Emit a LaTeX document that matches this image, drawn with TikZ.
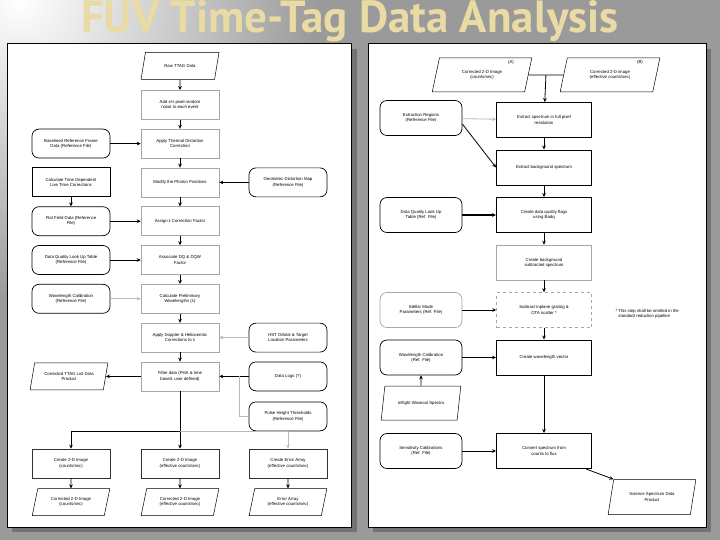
\documentclass[tikz,border=0pt]{standalone}
\usepackage{fontspec}
\setmainfont{Liberation Sans}
\newfontfamily\titlefont{PT Sans}
\usetikzlibrary{positioning,shapes.geometric,arrows.meta,calc}
\definecolor{slidegray}{HTML}{9A9A9A}
\definecolor{titlegold}{HTML}{E9DBA3}

\tikzset{
  boxtext/.style={font=\fontsize{4.3}{5.2}\selectfont, align=center},
  process/.style={boxtext, draw=gray!70, line width=0.5pt, fill=white, minimum width=78pt, minimum height=29pt},
  processthick/.style={process, draw=black, line width=0.9pt},
  reffile/.style={process, draw=black, line width=0.7pt, rounded corners=7pt},
  dataio/.style={boxtext, draw=black, line width=0.5pt, fill=white, trapezium,
    trapezium left angle=76, trapezium right angle=104, trapezium stretches=true,
    minimum width=78pt, minimum height=27pt},
  flow/.style={-{Stealth[length=4pt,width=3.6pt]}, line width=0.8pt},
  lightflow/.style={flow, draw=gray!55},
  wide/.style={minimum width=95pt, minimum height=35pt},
  narrow/.style={minimum width=82pt, minimum height=35pt}
}

\begin{document}
\begin{tikzpicture}[x=1pt, y=-1pt, node distance=38.8pt]
  \useasboundingbox (0,0) rectangle (720,540);
  % slide background
  \fill[slidegray] (0,0) rectangle (720,540);
  \begin{scope}
    \clip (0,0) rectangle (720,540);
    \shade[inner color=white, outer color=slidegray] (20,0) circle (300);
  \end{scope}

  % title
  \node[font=\titlefont\bfseries\fontsize{45}{45}\selectfont, text=titlegold] (title) at (350,21) {FUV Time-Tag Data Analysis};

  % panels
  \fill[black!55] (12,49) rectangle (357,532);
  \fill[black!55] (373,49) rectangle (711,532);
  \draw[fill=white, line width=0.7pt] (7,43) rectangle (351,527);
  \draw[fill=white, line width=0.7pt] (368,43) rectangle (706,527);

  %% left panel: main chain
  \node[dataio] (raw) at (180,66) {Raw TTAG Data};
  \node[process, below of=raw] (noise) {Add ±½ pixel random\\noise to each event};
  \node[process, below of=noise] (thermal) {Apply Thermal Distortion\\Correction};
  \node[process, below of=thermal] (modify) {Modify the Photon Positions};
  \node[process, below of=modify] (assign) {Assign ε Correction Factor};
  \node[process, below of=assign] (associate) {Associate DQ \& DQW\\Factor};
  \node[process, below of=associate] (prelim) {Calculate Preliminary\\Wavelengths (λ)};
  \node[process, below of=prelim] (doppler) {Apply Doppler \& Heliocentric\\Corrections to λ};
  \node[process, below of=doppler] (filter) {Filter data (PHA \& time\\based, user defined)};

  % reference files, left
  \node[reffile, left of=thermal, node distance=109pt] (baselined) {Baselined Reference Frame\\Data (Reference File)};
  \node[processthick, left of=modify, node distance=109pt] (livetime) {Calculate Time Dependent\\Live Time Corrections};
  \node[reffile, left of=assign, node distance=109pt] (flat) {Flat Field Data (Reference\\File)};
  \node[reffile, left of=associate, node distance=109pt] (dqlut) {Data Quality Look Up Table\\(Reference File)};
  \node[reffile, left of=prelim, node distance=109pt] (wavecal) {Wavelength Calibration\\(Reference File)};
  \node[dataio, left of=filter, node distance=111pt] (ttaglist) {Corrected TTAG List Data\\Product};

  % reference files, right
  \node[reffile, right of=modify, node distance=108pt] (geodist) {Geometric Distortion Map\\(Reference File)};
  \node[reffile, right of=doppler, node distance=108pt] (hst) {HST Orbital \& Target\\Location Parameters};
  \node[reffile, right of=filter, node distance=108pt] (logs) {Data Logs (?)};
  \node[reffile, below of=logs, node distance=40pt] (pha) {Pulse Height Thresholds\\(Reference File)};

  % images
  \node[process, draw=black!80, below of=filter, node distance=87pt] (img2) {Create 2-D Image\\(effective counts/sec)};
  \node[process, draw=black!80, left of=img2, node distance=109pt] (img1) {Create 2-D Image\\(counts/sec)};
  \node[process, draw=black!80, right of=img2, node distance=108pt] (err) {Create Error Array\\(effective counts/sec)};
  \node[dataio, below of=img1] (outimg1) {Corrected 2-D Image\\(counts/sec)};
  \node[dataio, below of=img2] (outimg2) {Corrected 2-D Image\\(effective counts/sec)};
  \node[dataio, below of=err] (outerr) {Error Array\\(effective counts/sec)};

  \foreach \a/\b in {raw/noise, noise/thermal, thermal/modify, modify/assign,
                     assign/associate, associate/prelim, prelim/doppler, doppler/filter}
    \draw[flow] (\a) -- (\b);
  \draw[flow] (baselined) -- (thermal);
  \draw[flow] (livetime) -- (flat);
  \draw[flow] (geodist) -- (modify);
  \draw[flow] (flat) -- (assign);
  \draw[flow, line width=0.5pt] (dqlut) -- (associate);
  \draw[lightflow] (wavecal) -- (prelim);
  \draw[lightflow] (hst) -- (doppler);
  \draw[flow] (logs) -- (filter);
  \draw[flow] (filter) -- (ttaglist);
  \coordinate (phajoin) at ($(filter.east)!0.7!(logs.west)$);
  \draw[gray!55, line width=0.8pt] (pha.west) -| (phajoin);

  \coordinate (split) at ($(filter.south)!0.7!(img2.north)$);
  \draw[line width=0.8pt] (filter) -- (split);
  \draw[flow] (split) -| (img1);
  \draw[flow] (split) -- (img2);
  \draw[lightflow] (split) -| (err);
  \draw[flow] (img1) -- (outimg1);
  \draw[flow] (img2) -- (outimg2);
  \draw[flow] (err) -- (outerr);

  %% right panel
  \node[dataio, minimum width=100pt, minimum height=34pt] (specA) at (482,75) {Corrected 2-D Image\\(counts/sec)};
  \node[dataio, minimum width=100pt, minimum height=34pt] (specB) at (610,75) {Corrected 2-D image\\(effective counts/sec)};
  \node[boxtext] (labA) at (511,62) {(A)};
  \node[boxtext] (labB) at (640,62) {(B)};

  \node[processthick, wide] (extract) at (544,120) {Extract spectrum in full pixel\\resolution};
  \node[processthick, wide, below of=extract, node distance=47.5pt] (background) {Extract background spectrum};
  \node[processthick, wide, below of=background, node distance=47.5pt] (dqflags) {Create data quality flags\\using Badq};
  \node[process, wide, below of=dqflags, node distance=47.5pt] (bkgsub) {Create background\\subtracted spectrum};
  \node[process, wide, dashed, below of=bkgsub, node distance=47.5pt] (scatter) {Subtract inplane grating \&\\OTA scatter *};
  \node[processthick, wide, below of=scatter, node distance=47.5pt] (wavevec) {Create wavelength vector};
  \node[processthick, wide] (convert) at (544,451) {Convert spectrum from\\counts to flux};
  \node[dataio, minimum width=88pt, minimum height=35pt] (science) at (652,497) {Science Spectrum Data\\Product};

  \node[reffile, narrow] (extreg) at (421,118) {Extraction Regions\\(Reference File)};
  \node[reffile, narrow] (dqref) at (dqflags -| extreg) {Data Quality Look Up\\Table (Ref. File)};
  \node[reffile, narrow, draw=gray!70] (stellar) at (scatter -| extreg) {Stellar Mode\\Parameters (Ref. File)};
  \node[reffile, narrow] (wavref) at (wavevec -| extreg) {Wavelength Calibration\\(Ref. File)};
  \node[dataio, minimum width=80pt, minimum height=34pt] (inflight) at (421,403) {Inflight Wavecal Spectra};
  \node[reffile, narrow] (sensref) at (convert -| extreg) {Sensitivity Calibrations\\(Ref. File)};

  \node[boxtext, align=left, anchor=west] (note) at (612,314) {* This step shall be omitted in the\\\phantom{* }standard reduction pipeline};

  \coordinate (join) at ($(specA.east)!0.5!(specB.west)$);
  \draw[line width=0.8pt] (specA.east) -- (specB.west);
  \draw[flow] (join) -- (extract);
  \foreach \a/\b in {extract/background, background/dqflags, dqflags/bkgsub,
                     bkgsub/scatter, scatter/wavevec, wavevec/convert}
    \draw[flow] (\a) -- (\b);
  \draw[lightflow] (extreg) -- (extract);
  \draw[flow] ([yshift=-6pt]extreg.east) -- (background.west);
  \draw[flow, line width=1.1pt] (dqref) -- (dqflags);
  \draw[flow] (stellar) -- (scatter);
  \draw[flow] (wavref) -- (wavevec);
  \draw[flow] (inflight) -- (wavref);
  \draw[flow] (sensref) -- (convert);
  \draw[flow] ([xshift=-6pt]convert.south east) -- (science.top left corner);
\end{tikzpicture}
\end{document}
